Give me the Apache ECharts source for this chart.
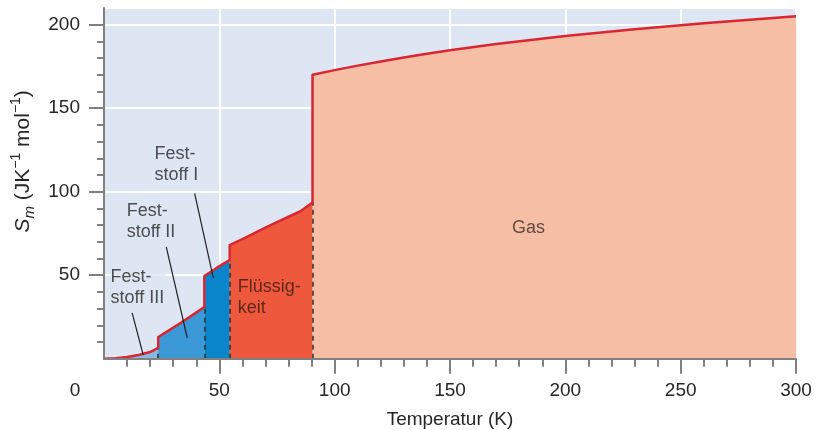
<!DOCTYPE html>
<html><head><meta charset="utf-8">
<script src="https://cdn.jsdelivr.net/npm/echarts@6/dist/echarts.min.js"></script>
<style>html,body{margin:0;padding:0;background:#fff}#c{width:822px;height:430px}</style>
</head><body><div id="c"></div>
<script>
// ---- data ----
const solidIII_T = [0, 5, 10, 15, 20, 23.5];
const solidIII_S = [0, 0.3, 1, 2.2, 4, 6.5];
const solidII_T = [23.5, 28, 33, 38, 43.5];
const solidII_S = [13, 16.8, 21.2, 25.8, 31];
const solidI_T = [43.5, 49, 54.5];
const solidI_S = [49.5, 54.5, 59];
const liquid_T = [54.5, 60, 65, 70, 75, 80, 85, 90.4];
const liquid_S = [68, 71.6, 75.1, 78.5, 81.8, 85, 88.2, 93.5];
const gas_T = [90.4, 100, 110, 120, 130, 140, 150, 170, 200, 230, 260, 300];
const gas_S = [170, 172.8, 175.5, 178, 180.3, 182.6, 184.7, 188.4, 193.2, 197.3, 200.8, 205];

const boundary_T = [23.5, 43.5, 54.5, 90.4];
const boundary_S = [6.5, 31, 59, 93.5];

const labelTexts = ['Fest-\nstoff III', 'Fest-\nstoff II', 'Fest-\nstoff I', 'Flüssig-\nkeit', 'Gas'];
const label_T = [2.6, 9.6, 21.7, 57.8, 184];
const label_S = [42.4, 82, 116, 36.4, 78];

const leaderFrom_T = [12.2, 27, 39.3];
const leaderFrom_S = [27.4, 67, 99];
const leaderTo_T = [17, 36.1, 47.4];
const leaderTo_S = [2.2, 12.4, 48.3];

const xMajorTicks = [50, 100, 150, 200, 250, 300];
const yMajorTicks = [50, 100, 150, 200];
const yMinorTicks = [10, 20, 30, 40, 60, 70, 80, 90, 110, 120, 130, 140, 160, 170, 180, 190];

// ---- build ----
const pts = (T, S) => T.map((t, i) => [t, S[i]]);
const curve = [].concat(pts(solidIII_T, solidIII_S), pts(solidII_T, solidII_S),
  pts(solidI_T, solidI_S), pts(liquid_T, liquid_S), pts(gas_T, gas_S));

const fill = (T, S, color) => ({
  type: 'line', data: pts(T, S), symbol: 'none', silent: true, z: 2,
  lineStyle: { width: 0 }, areaStyle: { color: color, opacity: 1 }
});

const FONT = 'Liberation Sans, Arial, Helvetica, sans-serif';
const TXT = '#262626';
const labelColors = [TXT, TXT, TXT, '#3a1c12', '#3d2a22'];
const BG = '#dfe6f3';
const AX = '#808080';

const chart = echarts.init(document.getElementById('c'), null, { renderer: 'canvas' });
chart.setOption({
  animation: false,
  grid: { left: 104, right: 26, top: 8, bottom: 71.3, show: true, backgroundColor: BG, borderWidth: 0,
          containLabel: false, outerBoundsMode: 'none' },
  xAxis: [{
    type: 'value', min: 0, max: 300, interval: 50, z: 10,
    name: 'Temperatur (K)', nameLocation: 'middle', nameGap: 52,
    nameTextStyle: { fontSize: 19, color: TXT, fontFamily: FONT },
    axisLine: { show: true, lineStyle: { color: AX, width: 2 } },
    axisTick: { show: true, length: 15, customValues: xMajorTicks, lineStyle: { color: AX, width: 2 } },
    minorTick: { show: true, splitNumber: 5, length: 8, lineStyle: { color: AX, width: 2 } },
    axisLabel: {
      fontSize: 19, color: TXT, fontFamily: FONT, margin: 23,
      formatter: v => v === 0 ? '{o|0}' : String(v),
      rich: { o: { fontSize: 19, color: TXT, fontFamily: FONT, padding: [0, 58, 0, 0] } }
    },
    splitLine: { show: false }
  }, {
    type: 'value', min: 0, max: 300, interval: 50, position: 'bottom', z: 0,
    axisLine: { show: false }, axisTick: { show: false }, axisLabel: { show: false },
    splitLine: { show: true, lineStyle: { color: '#ffffff', width: 2 } }
  }],
  yAxis: [{
    type: 'value', min: 0, max: 210, interval: 50, z: 10,
    name: '{i|S}{sub|m}{t| (JK}{sup|−1}{t| mol}{sup|−1}{t|)}',
    nameLocation: 'middle', nameGap: 61,
    nameTextStyle: {
      fontSize: 21, color: TXT, fontFamily: FONT, padding: [0, 0, 0, 44],
      rich: {
        i: { fontSize: 21, fontStyle: 'italic', color: TXT, fontFamily: FONT, lineHeight: 28 },
        sub: { fontSize: 15, fontStyle: 'italic', color: TXT, fontFamily: FONT, lineHeight: 16, verticalAlign: 'bottom' },
        t: { fontSize: 21, color: TXT, fontFamily: FONT, lineHeight: 28 },
        sup: { fontSize: 14, color: TXT, fontFamily: FONT, lineHeight: 14, verticalAlign: 'top' }
      }
    },
    axisLine: { show: true, lineStyle: { color: AX, width: 2 } },
    axisTick: { show: true, length: 15, customValues: yMajorTicks, lineStyle: { color: AX, width: 2 } },
    axisLabel: {
      fontSize: 19, color: TXT, fontFamily: FONT, margin: 24,
      formatter: v => yMajorTicks.indexOf(v) >= 0 ? String(v) : ''
    },
    splitLine: { show: false }
  }, {
    type: 'value', min: 0, max: 210, interval: 10, position: 'left', offset: 0, z: 10,
    axisLine: { show: false },
    axisTick: { show: true, length: 7, customValues: yMinorTicks, lineStyle: { color: AX, width: 2 } },
    axisLabel: { show: false },
    splitLine: { show: false }
  }, {
    type: 'value', min: 0, max: 210, interval: 50, position: 'left', offset: 0, z: 0,
    axisLine: { show: false }, axisTick: { show: false }, axisLabel: { show: false },
    splitLine: { show: true, lineStyle: { color: '#ffffff', width: 2 } }
  }],
  series: [
    fill(solidIII_T, solidIII_S, '#88b9e3'),
    fill(solidII_T, solidII_S, '#3a99d6'),
    fill(solidI_T, solidI_S, '#0a85c9'),
    fill(liquid_T, liquid_S, '#ee583c'),
    fill(gas_T, gas_S, '#f7bea6'),
    {
      type: 'lines', coordinateSystem: 'cartesian2d', silent: true, z: 3,
      data: boundary_T.map((t, i) => ({ coords: [[t, 0], [t, boundary_S[i]]] })),
      lineStyle: { color: '#2a2a2a', width: 1.5, type: [5, 4], opacity: 1 }
    },
    {
      type: 'line', data: curve, symbol: 'none', silent: true, z: 4,
      lineStyle: { color: '#d92631', width: 2.5, join: 'round' }
    },
    {
      type: 'lines', coordinateSystem: 'cartesian2d', silent: true, z: 5,
      data: leaderFrom_T.map((t, i) => ({ coords: [[t, leaderFrom_S[i]], [leaderTo_T[i], leaderTo_S[i]]] })),
      lineStyle: { color: '#222', width: 1.2, opacity: 1 }
    },
    {
      type: 'scatter', silent: true, z: 6, symbolSize: 1,
      itemStyle: { color: 'rgba(0,0,0,0)' },
      data: label_T.map((t, i) => ({
        value: [t, label_S[i]],
        label: {
          show: true, formatter: labelTexts[i], color: labelColors[i],
          position: labelTexts[i] === 'Gas' ? 'inside' : 'right', distance: 0,
          align: labelTexts[i] === 'Gas' ? 'center' : 'left',
          fontSize: 18, lineHeight: 21, fontFamily: FONT,
          backgroundColor: i === 0 ? BG : 'transparent', padding: i === 0 ? [0, 1, 0, 0] : 0
        }
      }))
    }
  ]
});
</script></body></html>
